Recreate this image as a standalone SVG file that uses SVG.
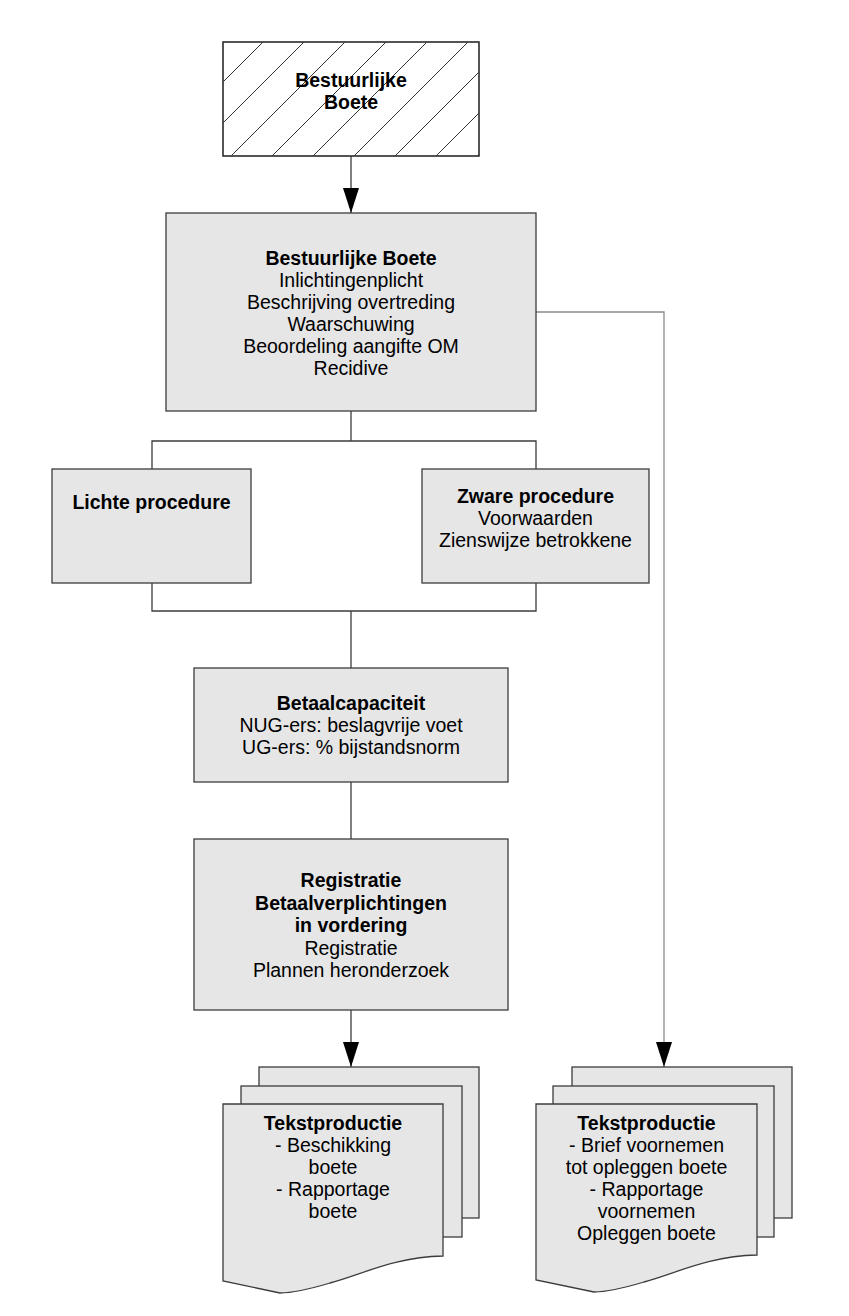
<svg xmlns="http://www.w3.org/2000/svg" width="849" height="1316" viewBox="0 0 849 1316">
<style>
  .box { fill: #e6e6e7; stroke: #3c3c3c; stroke-width: 1.3; }
  .hbox { fill: #ffffff; stroke: #3c3c3c; stroke-width: 1.3; }
  .sheet { fill: #e6e6e7; stroke: #3c3c3c; stroke-width: 1.3; }
  .hatch { stroke: #333333; stroke-width: 1; }
  .con { fill: none; stroke: #3c3c3c; stroke-width: 1.3; }
  .con2 { fill: none; stroke: #8a8a8a; stroke-width: 1.3; }
  text { font-family: "Liberation Sans", Arial, sans-serif; font-size: 19.5px; fill: #000; text-anchor: middle; }
  .b { font-weight: bold; }
</style>
<defs>
  <marker id="arr" markerUnits="userSpaceOnUse" viewBox="0 0 25 16" refX="25" refY="8" markerWidth="25" markerHeight="16" orient="auto">
    <path d="M0,0 L25,8 L0,16 Z" fill="#000"/>
  </marker>
  <clipPath id="hclip"><rect x="223" y="42" width="256" height="114"/></clipPath>
</defs>
<rect width="849" height="1316" fill="#ffffff"/>

<g id="connectors">
  <line class="con" x1="351" y1="156" x2="351" y2="213" marker-end="url(#arr)"/>
  <polyline class="con2" points="536,312 664,312 664,1067" marker-end="url(#arr)"/>
  <line class="con" x1="351" y1="411" x2="351" y2="441"/>
  <polyline class="con" points="152,469 152,441 536,441 536,469"/>
  <polyline class="con" points="152,583 152,611 536,611 536,583"/>
  <line class="con" x1="351" y1="611" x2="351" y2="668"/>
  <line class="con" x1="351" y1="782" x2="351" y2="839"/>
  <line class="con" x1="351" y1="1010" x2="351" y2="1067" marker-end="url(#arr)"/>
</g>

<g id="start">
  <rect class="hbox" x="223" y="42" width="256" height="114"/>
  <g clip-path="url(#hclip)">
    <line class="hatch" x1="263" y1="42" x2="149" y2="156"/>
    <line class="hatch" x1="304" y1="42" x2="190" y2="156"/>
    <line class="hatch" x1="345" y1="42" x2="231" y2="156"/>
    <line class="hatch" x1="386" y1="42" x2="272" y2="156"/>
    <line class="hatch" x1="427" y1="42" x2="313" y2="156"/>
    <line class="hatch" x1="468" y1="42" x2="354" y2="156"/>
    <line class="hatch" x1="509" y1="42" x2="395" y2="156"/>
    <line class="hatch" x1="550" y1="42" x2="436" y2="156"/>
    <line class="hatch" x1="591" y1="42" x2="477" y2="156"/>
  </g>
  <rect x="223" y="42" width="256" height="114" fill="none" stroke="#3c3c3c" stroke-width="1.3"/>
  <text class="b" x="351" y="87">Bestuurlijke</text>
  <text class="b" x="351" y="109">Boete</text>
</g>

<g id="main">
  <rect class="box" x="166" y="213" width="370" height="198"/>
  <text class="b" x="351" y="265">Bestuurlijke Boete</text>
  <text x="351" y="287">Inlichtingenplicht</text>
  <text x="351" y="309">Beschrijving overtreding</text>
  <text x="351" y="331">Waarschuwing</text>
  <text x="351" y="353">Beoordeling aangifte OM</text>
  <text x="351" y="375">Recidive</text>
</g>

<g id="lichte">
  <rect class="box" x="52" y="469" width="199" height="114"/>
  <text class="b" x="151.5" y="509">Lichte procedure</text>
</g>

<g id="zware">
  <rect class="box" x="422" y="469" width="227" height="114"/>
  <text class="b" x="535.5" y="503">Zware procedure</text>
  <text x="535.5" y="525">Voorwaarden</text>
  <text x="535.5" y="547">Zienswijze betrokkene</text>
</g>

<g id="betaal">
  <rect class="box" x="194" y="668" width="314" height="114"/>
  <text class="b" x="351" y="710">Betaalcapaciteit</text>
  <text x="351" y="732">NUG-ers: beslagvrije voet</text>
  <text x="351" y="754">UG-ers: % bijstandsnorm</text>
</g>

<g id="registratie">
  <rect class="box" x="194" y="839" width="314" height="171"/>
  <text class="b" x="351" y="887">Registratie</text>
  <text class="b" x="351" y="909.5">Betaalverplichtingen</text>
  <text class="b" x="351" y="932">in vordering</text>
  <text x="351" y="954.5">Registratie</text>
  <text x="351" y="977">Plannen heronderzoek</text>
</g>

<g id="doc-left">
  <rect class="sheet" x="259" y="1067" width="220" height="151"/>
  <rect class="sheet" x="241" y="1086" width="221" height="151"/>
  <path class="sheet" d="M223,1104 H443 V1256 C395,1257 360,1275 330,1283 C310,1289 295,1293 280,1293 L223,1281 Z"/>
  <text class="b" x="333" y="1130">Tekstproductie</text>
  <text x="333" y="1152">- Beschikking</text>
  <text x="333" y="1174">boete</text>
  <text x="333" y="1196">- Rapportage</text>
  <text x="333" y="1218">boete</text>
</g>

<g id="doc-right">
  <rect class="sheet" x="572" y="1067" width="220" height="151"/>
  <rect class="sheet" x="553" y="1086" width="221" height="151"/>
  <path class="sheet" d="M536,1104 H757 V1255 C709,1256 674,1274 644,1282 C624,1288 609,1292 594,1292 L536,1280 Z"/>
  <text class="b" x="646.5" y="1130">Tekstproductie</text>
  <text x="646.5" y="1152">- Brief voornemen</text>
  <text x="646.5" y="1174">tot opleggen boete</text>
  <text x="646.5" y="1196">- Rapportage</text>
  <text x="646.5" y="1218">voornemen</text>
  <text x="646.5" y="1240">Opleggen boete</text>
</g>
</svg>
